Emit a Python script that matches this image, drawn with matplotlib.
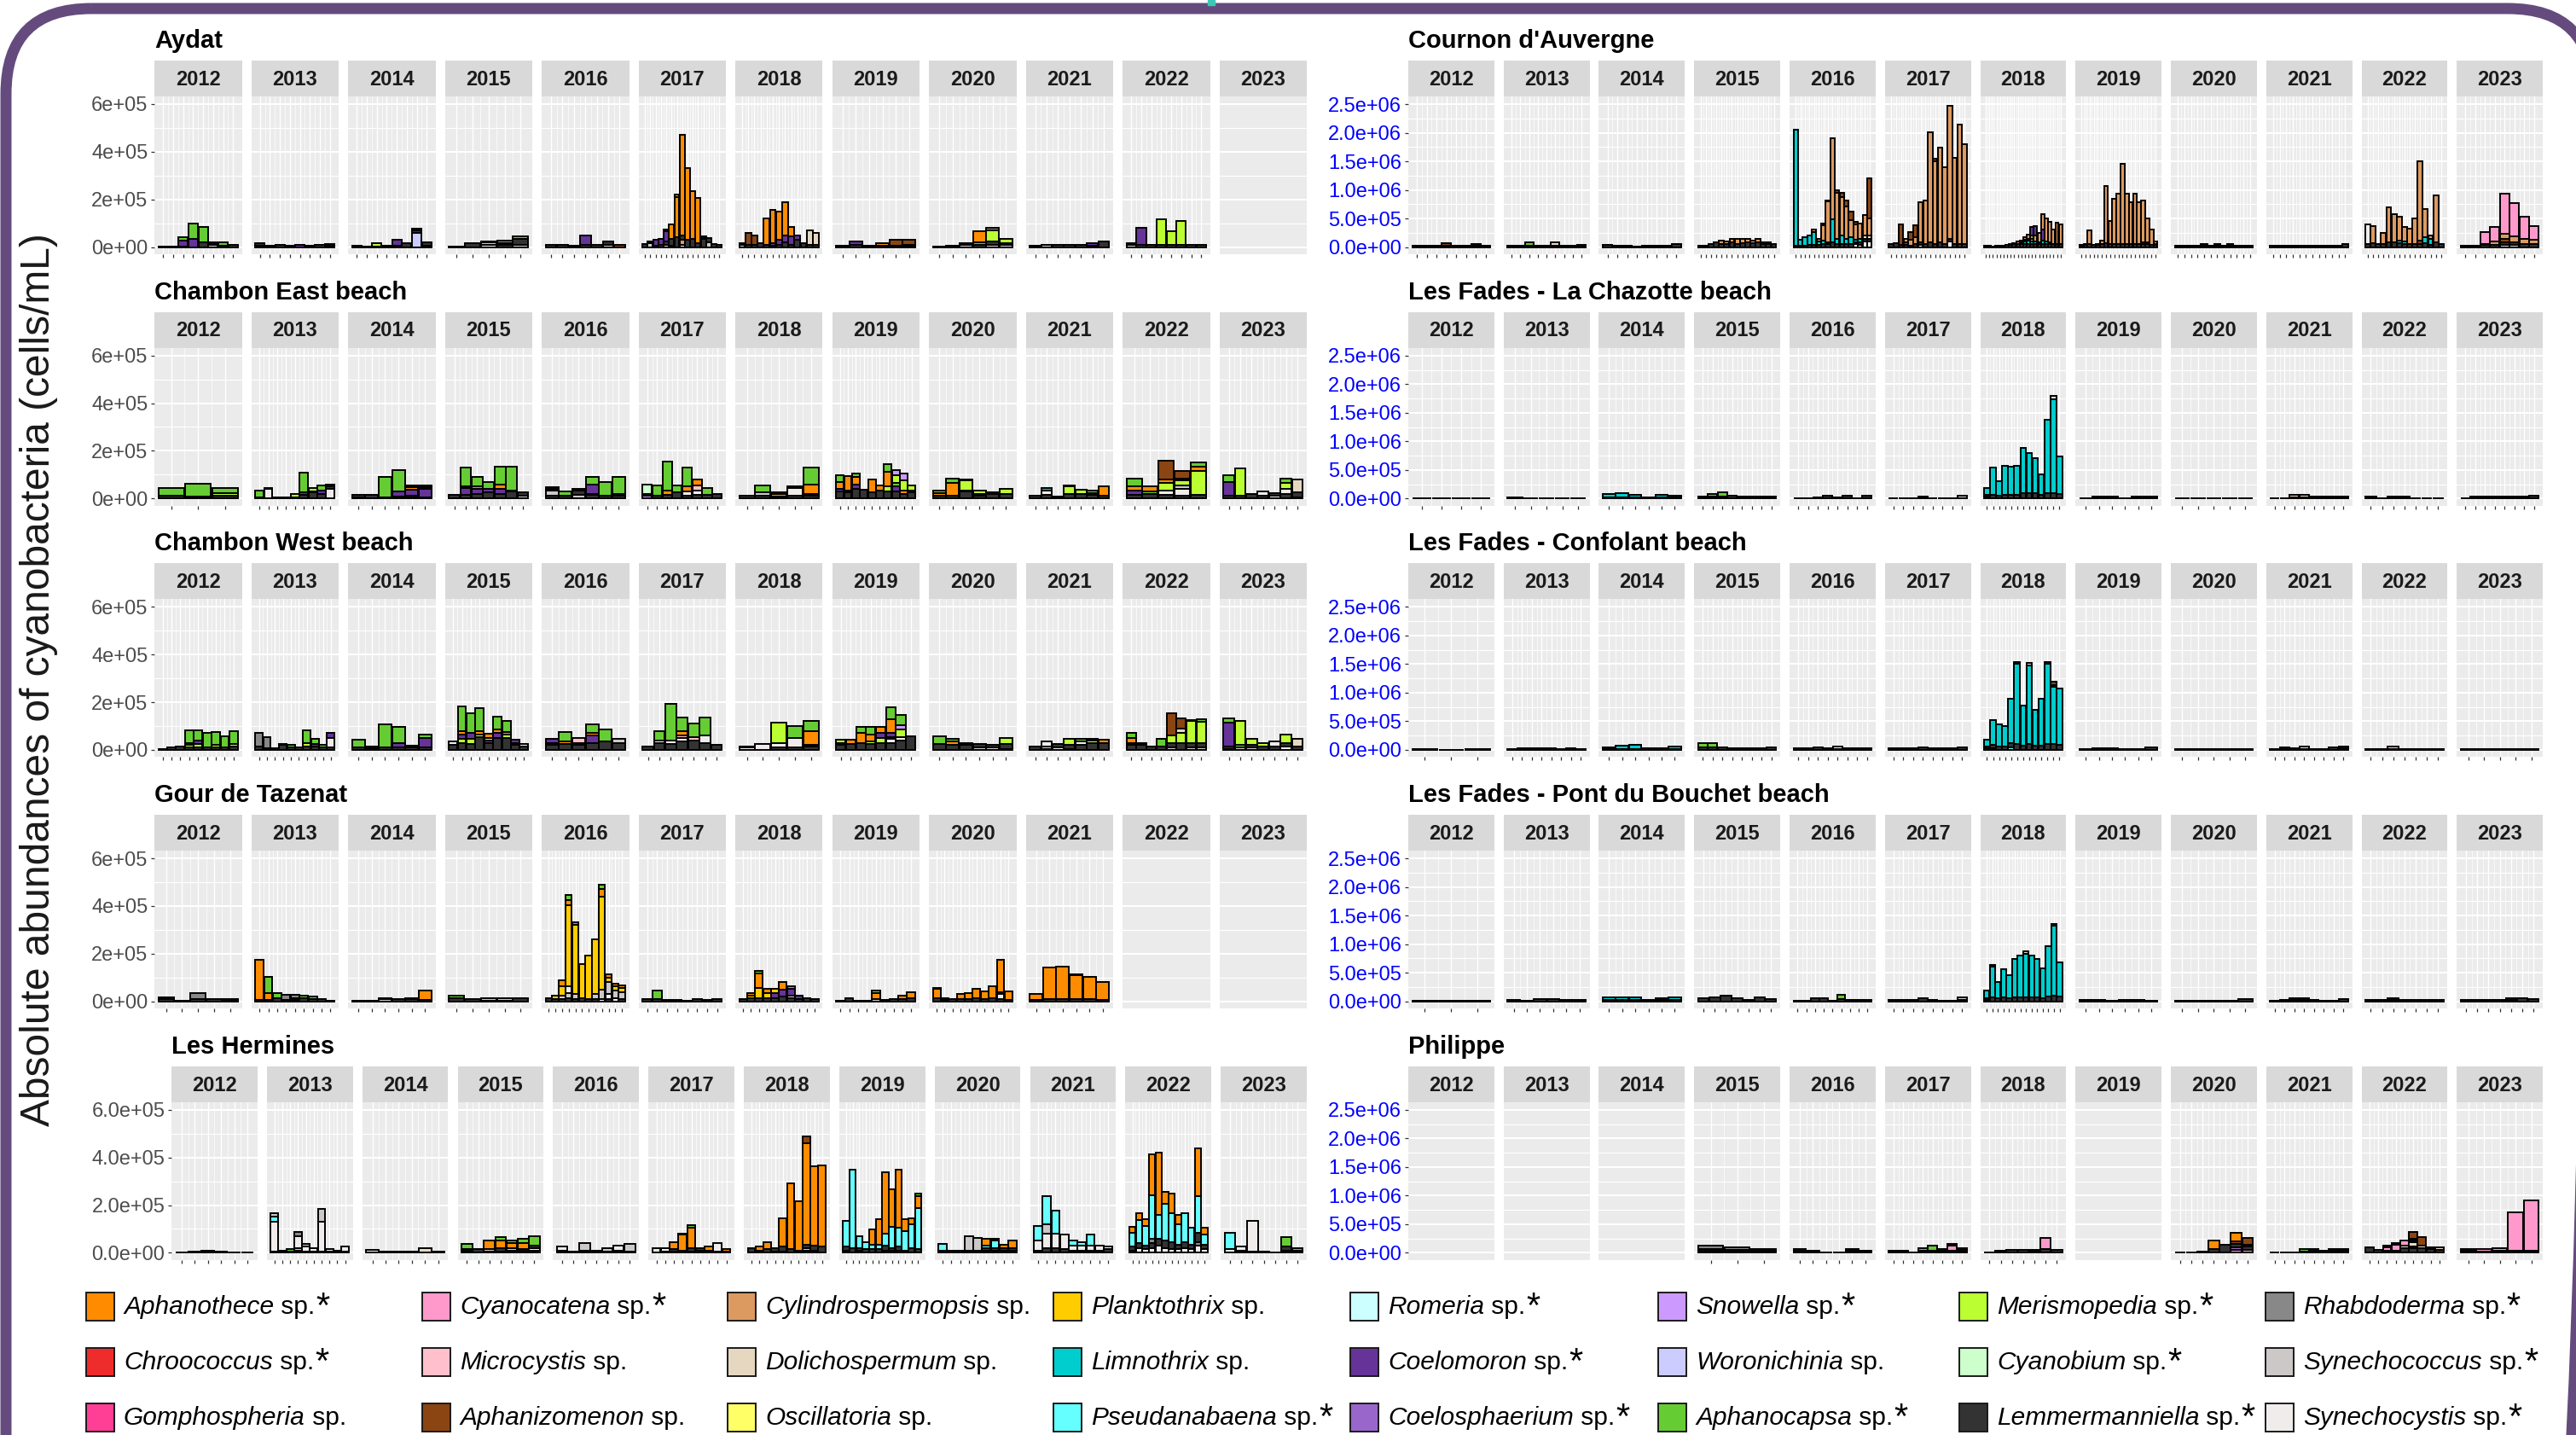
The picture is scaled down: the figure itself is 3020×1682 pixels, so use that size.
import matplotlib
matplotlib.use("Agg")
import matplotlib.pyplot as plt
from matplotlib.patches import Rectangle, FancyBboxPatch
import numpy as np

plt.rcParams['font.family'] = ['Liberation Sans', 'DejaVu Sans']

# ------------------------------------------------------------------ data
YEARS = list(range(2012, 2024))

TAXA = ["Aphanothece", "Chroococcus", "Gomphospheria", "Cyanocatena", "Microcystis",
        "Aphanizomenon", "Cylindrospermopsis", "Dolichospermum", "Oscillatoria",
        "Planktothrix", "Limnothrix", "Pseudanabaena", "Romeria", "Coelomoron",
        "Coelosphaerium", "Snowella", "Woronichinia", "Aphanocapsa", "Merismopedia",
        "Cyanobium", "Lemmermanniella", "Rhabdoderma", "Synechococcus", "Synechocystis"]
CODES = ["Ap", "Ch", "Go", "Cc", "Mi", "Az", "Cy", "Do", "Os", "Pl", "Li", "Ps", "Ro",
         "Cm", "Cs", "Sn", "Wo", "Ac", "Me", "Cb", "Le", "Rh", "Sc", "Sy"]
STARRED = [1, 1, 0, 1, 0, 0, 0, 0, 0, 0, 0, 1, 1, 1, 1, 1, 0, 1, 1, 1, 1, 1, 1, 1]
COLORS = ["#FF8C00", "#EE2C2C", "#FF3E96", "#FF99CC", "#FFC0CB", "#8B4513", "#DD9A60",
          "#E6D8C0", "#FFFF66", "#FFCC00", "#00CDCD", "#66FFFF", "#CCFFFF", "#663399",
          "#9966CC", "#CC99FF", "#CCCCFF", "#66CC33", "#BBFF33", "#CCFFCC", "#333333",
          "#888888", "#CCC8C8", "#F0ECEC"]

# bars per year: "|" separates sampling dates; stack listed bottom -> top; values in 1000 cells/mL
AYDAT = {
    2012: "Le:2 | Le:2 | Le:3 Cm:25 Ac:15 | Cm:35 Ac:65 | Le:20 Ac:65 | Sc:8 Le:4 Ac:8 | Le:5 Ac:15 | Le:10",
    2013: "Sc:5 Le:10 | Le:5 | Le:8 | Le:5 | Cm:8 | Le:5 | Le:8 | Le:5 Ac:8",
    2014: "Le:5 | Le:2 | Le:3 Me:12 | Le:5 | Le:5 Cm:25 | Le:15 | Wo:60 Le:10 Do:8 | Wo:5 Le:15",
    2015: "Le:2 | Le:15 | Sy:10 Sc:10 Le:5 | Le:10 Cm:8 Rh:9 | Sc:8 Le:27 Ac:10",
    2016: "Le:8 | Le:8 | Le:5 | Le:8 Cm:40 | Le:8 | Sc:8 Le:15 | Az:8",
    2017: "Le:12 | Sc:15 Le:10 | Le:5 Cm:25 | Le:8 Cm:25 | Sc:10 Le:15 Cm:40 Ac:10 | Sy:5 Le:30 Ap:60 | "
          "Le:40 Ap:170 Ac:10 | Sy:10 Cy:20 Le:20 Ap:420 | Le:30 Ap:300 | Le:35 Ap:200 | Le:15 Ap:190 | "
          "Le:35 Mi:5 Ap:5 | Sc:20 Le:18 | Le:12 | Le:10",
    2018: "Sc:10 Le:8 | Le:10 Az:50 | Le:10 Az:40 | Le:18 | Le:10 Ap:110 | Le:7 Cm:10 Ap:140 | "
          "Le:10 Cm:20 Ap:120 | Le:20 Cm:30 Ap:140 | Le:10 Cm:35 Ap:40 | Le:30 Cm:20 | Le:18 | Le:10 Do:60 | Le:10 Do:50",
    2019: "Le:5 | Le:8 Cm:15 | Le:5 | Le:5 Ap:10 | Le:5 Az:25 | Le:5 Ap:5 Az:20",
    2020: "Le:3 | Le:5 | Sc:10 Le:5 | Le:10 Ac:10 Ap:45 | Sc:10 Le:15 Me:45 Rh:10 | Sc:8 Le:10 Me:15",
    2021: "Le:5 | Sc:8 | Le:8 | Le:8 | Le:8 | Le:5 Cm:12 | Le:25",
    2022: "Sc:10 Le:8 | Le:10 Cm:70 | Le:10 | Le:8 Me:110 | Le:8 Me:60 | Le:8 Me:100 | Le:10 | Le:10",
    2023: "",
}
CHAMBON_EAST = {
    2012: "Le:12 Ac:32 | Le:7 Ac:55 | Le:10 Me:12 Ac:22",
    2013: "Le:5 Ac:30 | Sy:40 Le:3 | Le:5 | Le:3 | Le:5 Me:15 | Le:15 Cm:10 Ac:85 | Le:25 Cm:5 Me:15 | "
          "Le:20 Cm:15 Ac:20 | Sy:40 Le:10 Ac:10",
    2014: "Cm:5 Le:10 | Le:15 | Le:5 Ac:85 | Le:8 Cm:20 Ac:90 | Le:5 Mi:8 Cm:25 Ap:10 Ac:5 | Le:5 Cm:35 Ap:8 Ac:8",
    2015: "Le:15 | Le:15 Cm:30 Ap:5 Ac:80 | Le:20 Cm:20 Ap:10 Ac:40 | Le:25 Cm:15 Ac:30 | Le:20 Cm:20 Ap:20 Ac:75 | "
          "Le:30 Ap:5 Ac:100 | Sc:10 Le:15",
    2016: "Le:12 Sc:20 Mi:10 Ap:5 | Le:10 Ac:20 | Sc:15 Le:18 Ap:8 | Le:15 Mi:5 Cm:40 Ac:30 | Le:10 Ac:60 | Le:10 Cm:10 Ac:70",
    2017: "Sn:10 Le:10 Cb:40 | Le:10 Ac:45 | Le:15 Ap:20 Ac:120 | Le:25 Ac:30 | Le:10 Sy:20 Ap:20 Ac:80 | "
          "Le:15 Sy:20 Mi:20 Ap:25 | Le:15 Ac:30 | Le:20",
    2018: "Le:12 | Le:10 Sc:15 Ac:30 | Le:8 Ap:10 Ac:8 | Le:10 Sy:35 Rh:5 | Le:10 Sy:10 Ap:40 Ac:70",
    2019: "Le:30 Cm:10 Ap:30 Ac:28 | Le:25 Ac:10 Ap:58 | Le:40 Cm:20 Ap:30 Ac:15 | Le:36 | Le:25 Ap:53 | Le:34 Ap:20 | "
          "Le:30 Me:20 Ap:63 Ac:30 | Le:30 Cm:20 Ac:15 Me:34 Sn:20 | Le:20 Ap:15 Me:40 Sn:30 | Le:25 Mi:10 Me:21",
    2020: "Le:10 Ap:12 Ac:10 | Le:10 Ap:55 Ac:19 | Le:30 Mi:5 Me:40 Ac:5 | Le:10 Cm:10 Me:12 | Le:20 Ac:6 | Le:20 Me:20",
    2021: "Le:12 | Le:15 Sy:20 Li:10 | Le:8 | Le:20 Me:30 Ac:6 | Le:20 Me:16 | Le:15 Cm:8 Ac:9 | Le:10 Ap:40",
    2022: "Le:15 Cm:20 Ap:15 Ac:34 | Le:20 Ac:10 Ap:20 | Le:15 Sy:20 Me:30 Ap:15 Az:80 | "
          "Le:10 Sy:30 Sc:15 Me:20 Ap:10 Az:32 | Le:15 Me:100 Ap:20 Ac:17",
    2023: "Le:10 Cm:60 Ac:28 | Le:10 Me:115 | Le:20 | Le:10 Sy:20 | Sy:10 Le:12 | Le:20 Sy:20 Me:25 Ac:19 | Sc:5 Le:20 Do:53",
}
CHAMBON_WEST = {
    2012: "Le:5 | Le:10 | Le:15 | Le:10 Me:10 Cm:10 Ac:53 | Le:10 Me:15 Cm:15 Ac:43 | Le:10 Ac:61 | "
          "Le:10 Me:10 Ac:55 | Le:10 Ac:49 | Le:15 Me:10 Ac:55",
    2013: "Le:15 Rh:56 | Le:8 Rh:45 | Le:8 | Le:20 Ac:6 | Le:10 Ac:10 | Le:10 | Le:15 Me:15 Ac:53 | "
          "Le:15 Cm:10 Ac:23 | Le:10 Ac:10 | Le:10 Sy:40 Cm:21",
    2014: "Le:12 Ac:30 | Le:8 Ap:5 | Le:10 Ac:97 | Le:10 Cm:20 Ac:65 | Le:10 Mi:8 | Le:10 Cm:40 Ac:13",
    2015: "Le:20 Sy:16 | Le:30 Me:15 Cm:20 Ap:15 Ac:104 | Le:25 Me:20 Cm:25 Ac:84 | Le:55 Me:10 Ap:15 Ac:96 | "
          "Le:30 Cm:10 Me:10 Ap:18 | Le:50 Cm:20 Ap:15 Ac:54 | Le:50 Me:15 Ap:10 Ac:47 | Le:20 Sc:10 Cm:12 | Le:15 Sy:10",
    2016: "Le:20 Sc:10 Cm:15 | Le:25 Ap:10 Ac:40 | Le:20 Sy:10 Mi:20 | Le:30 Cm:30 Ap:10 Ac:37 | Le:35 Ac:51 | Le:30 Sc:15",
    2017: "Le:15 | Le:30 Sy:10 Ac:40 | Le:25 Sy:15 Ac:152 | Le:35 Sy:15 Mi:10 Ap:20 Ac:57 | Le:40 Mi:15 Ac:55 | "
          "Le:30 Sy:30 Ac:77 | Le:20",
    2018: "Sy:10 Le:5 | Sy:25 | Le:10 Sy:20 Me:85 | Le:10 Sy:40 Ac:51 | Le:15 Sy:5 Ap:60 Ac:42",
    2019: "Le:20 Sc:10 Me:14 | Le:25 Ap:17 | Le:30 Ap:40 Ac:25 | Le:25 Me:10 Ap:30 Ac:30 | Le:30 Me:20 Cm:20 Ap:25 | "
          "Le:30 Sy:15 Me:10 Cm:15 Ap:60 Ac:50 | Le:40 Sy:15 Me:30 Sn:20 Ac:43 | Le:57",
    2020: "Le:25 Ac:34 | Le:20 Ap:15 Ac:10 | Le:20 Ap:10 | Sc:10 Le:15 | Sc:10 Le:10 | Sc:5 Le:20 Me:26",
    2021: "Le:15 | Le:5 Sc:10 Sy:21 | Sy:10 Le:15 | Sy:5 Le:15 Me:25 | Le:20 Sy:15 Ac:10 | Le:30 Me:10 Ac:5 | Le:30 Ap:12",
    2022: "Le:20 Me:10 Ap:20 Ac:21 | Le:20 Me:10 | Le:15 | Le:15 Ac:30 | Sc:10 Le:20 Me:30 Az:94 | "
          "Le:30 Me:40 Do:20 Az:43 | Sc:10 Le:20 Me:90 Ac:7 | Sc:10 Le:20 Me:88 Ac:10",
    2023: "Sc:5 Le:10 Cm:100 Ac:18 | Sc:10 Ac:10 Me:102 | Sc:10 Le:10 Me:28 | Le:15 Me:15 | Le:15 Sy:20 | "
          "Sy:15 Le:15 Me:33 | Le:15 Do:33",
}
GOUR_DE_TAZENAT = {
    2012: "Le:8 Ac:8 | Le:2 | Le:8 Rh:27 | Le:10 | Le:3 Ap:8",
    2013: "Le:5 Ap:169 | Le:5 Ap:30 Ac:68 | Le:15 Ac:18 | Le:5 Rh:22 | Le:5 Sc:10 Rh:12 | Le:15 Ac:10 | "
          "Le:10 Ac:10 | Le:10 | Le:3",
    2014: "Le:3 | Le:1 | Sc:10 Le:5 | Le:10 | Le:8 Ac:5 | Le:5 Ap:42",
    2015: "Le:12 Ac:12 | Le:8 | Le:4 Sc:10 | Le:4 Sc:10 | Le:15",
    2016: "Le:15 | Le:8 Pl:15 | Le:10 Sc:15 Pl:40 Ap:23 | Le:15 Sc:20 Sy:30 Pl:340 Ap:20 Ac:20 | "
          "Le:10 Sc:20 Pl:290 Ap:13 | Le:15 Pl:141 | Le:10 Pl:182 | Le:10 Sc:20 Pl:229 | "
          "Sy:10 Sc:40 Pl:390 Ap:30 Ac:18 | Le:10 Sy:20 Sc:50 Pl:20 Ap:15 | Sy:14 Sc:30 Pl:20 Ap:10 | Le:10 Sc:30 Pl:15 Ap:13",
    2017: "Le:8 | Le:8 Ac:37 | Le:5 | Le:5 | Le:3 | Le:10 | Le:5 | Le:10",
    2018: "Le:10 | Le:15 Pl:10 Ap:10 | Le:15 Pl:40 Ap:62 Ac:10 | Le:15 Pl:20 Ap:16 | Le:15 Cm:20 Pl:16 | "
          "Le:20 Cm:30 Ap:32 | Le:15 Sc:10 Cm:27 Ap:10 | Le:10 Cm:15 | Le:15 | Le:10",
    2019: "Le:3 | Le:15 | Le:3 | Le:3 | Sc:10 Ap:25 Ac:10 | Le:5 | Le:10 | Le:10 Ap:15 | Le:15 Ap:25",
    2020: "Le:15 Ap:36 Ac:5 | Le:5 Ap:10 | Le:8 | Le:8 Ap:22 | Le:8 Ap:25 | Le:15 Ap:38 | Le:10 Ap:32 | "
          "Le:15 Ap:47 | Le:10 Sy:20 Sc:10 Ap:134 | Le:5 Ap:37",
    2021: "Le:5 Ap:25 | Le:10 Ap:131 | Le:10 Ap:137 | Le:10 Ap:100 Ac:5 | Le:10 Ap:94 | Sc:5 Ap:77",
    2022: "",
    2023: "",
}
LES_HERMINES = {
    2012: "Le:3 | Le:5 | Le:3 Ac:5 | Le:5 | Le:3 | Le:3",
    2013: "Le:5 Sy:125 Ps:20 Sc:16 | Le:8 | Le:5 Ac:12 | Le:8 Sc:10 Sy:50 Rh:19 | Le:5 Sy:20 Sc:11 | Le:5 Sy:15 | "
          "Le:5 Sy:125 Sc:54 | Le:5 Sy:10 | Le:5 Ac:5 | Le:5 Sy:23",
    2014: "Le:3 Sy:10 | Le:5 | Le:5 | Le:5 | Le:3 Do:15 | Le:5",
    2015: "Le:10 Sy:5 Ac:22 | Le:15 | Le:5 Sc:10 Ap:36 | Sy:5 Le:15 Ap:30 Ac:15 | Le:10 Sc:10 Ap:20 Ac:13 | "
          "Le:10 Sy:5 Ap:25 Ac:20 | Sc:10 Sy:10 Le:10 Ac:41",
    2016: "Le:10 Sy:17 | Le:5 | Le:8 Sc:31 | Le:10 | Le:5 Sc:15 | Le:8 Sy:23 | Le:5 Sc:32",
    2017: "Cb:19 | Le:5 Sy:15 | Sy:5 Le:10 Ap:28 | Le:10 Ap:66 Ac:5 | Sy:5 Le:15 Ap:86 Ac:10 | Go:3 Sy:5 Le:10 | "
          "Le:10 Ap:15 | Le:5 Sy:34 | Le:5 Ap:12",
    2018: "Le:20 | Le:10 Ap:15 | Le:15 Ap:30 | Sy:5 Le:15 | Sy:5 Le:20 Ap:121 | Le:15 Ap:275 | Le:10 Ap:207 | "
          "Li:10 Sc:10 Le:15 Ap:423 Az:30 | Sy:10 Le:20 Ap:333 | Le:25 Ap:340",
    2019: "Sy:10 Le:15 Ps:109 | Le:20 Ps:330 | Sy:10 Le:10 Ps:49 | Le:15 Ps:30 | Le:15 Ps:20 Ap:63 | "
          "Le:15 Ps:20 Ap:105 | Sy:10 Le:20 Ps:50 Ap:258 | Sy:10 Le:10 Ps:90 Ap:155 | Sy:10 Le:15 Ps:80 Ap:245 | "
          "Le:10 Ps:80 Ap:50 | Le:20 Ps:100 Ap:26 | Le:15 Ps:172 Ap:50 Ac:10",
    2020: "Le:10 Ps:27 | Le:8 | Le:10 | Le:10 Sc:61 | Le:10 Sc:53 | Sc:10 Le:10 Ps:10 Ap:30 | "
          "Sc:10 Le:10 Ps:30 Ap:10 | Sc:10 Le:10 Ap:12 | Sc:10 Le:10 Ap:30",
    2021: "Le:10 Sy:40 Ps:63 | Le:20 Sy:60 Sc:40 Ps:117 | Le:20 Sy:60 Ps:98 | Le:15 Sy:62 | Le:10 Sy:20 Ps:21 | "
          "Le:10 Sy:20 Ps:15 | Le:10 Sy:20 Ps:45 | Le:10 Sy:20 | Le:15 Sy:10",
    2022: "Sy:10 Le:15 Ps:60 Ap:22 | Sy:20 Le:20 Ps:96 Ap:30 | Sy:15 Le:15 Ps:82 Ap:30 | "
          "Sy:20 Le:20 Rh:20 Ps:180 Ap:173 | Sy:30 Le:30 Ps:100 Ap:261 | Sy:20 Le:30 Ps:155 Ap:50 | "
          "Sy:15 Le:30 Ps:122 Ap:80 | Sy:15 Le:20 Ps:83 Ap:40 | Sy:20 Le:25 Ps:121 | Sy:15 Le:20 Ps:69 | "
          "Sy:30 Rh:15 Le:40 Ps:152 Ap:200 | Sy:15 Le:20 Ps:40 Ap:29",
    2023: "Sy:15 Ps:68 | Le:10 Sy:17 | Le:5 Sy:129 | Le:5 | Le:3 | Sy:10 Le:15 Ac:40 | Le:10 Ap:10",
}
COURNON = {
    2012: "Le:30 | Le:30 | Le:30 | Le:30 Az:44 | Le:30 | Le:30 | Le:20 Do:29 | Le:30",
    2013: "Le:30 | Le:30 | Le:20 Ac:69 | Le:30 | Le:30 | Le:20 Do:69 | Le:30 | Le:30 | Le:20 Do:20",
    2014: "Le:40 | Le:30 | Le:20 | Le:5 | Le:30 | Le:30 | Le:30 | Le:50",
    2015: "Le:20 | Le:25 | Le:60 | Le:90 | Le:60 Cy:50 | Le:50 Cy:45 | Le:80 Cy:70 | Le:60 Cy:80 | Le:70 Cy:80 | "
          "Le:80 Cy:60 | Le:70 Cy:50 | Le:90 Cy:60 | Le:60 Li:30 | Le:50 Li:30 | Le:60",
    2016: "Le:20 Li:2030 | Le:20 Li:113 | Le:30 Li:147 | Le:40 Li:167 | Le:40 Li:220 Cy:50 | Le:40 Li:60 Cy:48 | "
          "Le:50 Li:60 Cy:278 Az:30 | Le:50 Li:30 Cy:722 Az:20 | Le:80 Li:400 Cy:1420 | Le:60 Li:80 Cy:815 Az:40 | "
          "Le:60 Li:150 Cy:665 Az:80 | Le:50 Li:100 Cy:562 Az:110 | Le:50 Li:120 Cy:305 Az:150 | "
          "Sy:50 Le:40 Li:40 Cy:263 Az:50 | Sy:40 Le:50 Li:50 Cy:278 | Sy:100 Le:40 Do:60 Cy:356 | "
          "Sy:100 Le:40 Do:60 Cy:300 Az:710",
    2017: "Le:50 | Le:69 | Le:40 Az:364 | Le:40 Az:40 Cy:68 | Le:30 Cy:100 Az:126 | Le:50 Cy:129 Az:200 | "
          "Sy:40 Le:50 Cy:698 | Le:60 Cy:753 | Le:80 Cy:1930 | Le:60 Cy:1440 Az:50 | Le:80 Cy:1660 | "
          "Le:60 Cy:1340 | Sy:100 Le:40 Cy:2330 | Le:60 Cy:1500 | Le:60 Cy:2080 | Le:60 Cy:1740",
    2018: "Le:20 | Le:20 | Sy:5 | Le:30 | Le:20 | Le:30 | Le:40 | Le:40 Li:20 | Le:50 Li:25 | Le:60 Cy:40 | "
          "Le:60 Li:20 Cy:40 | Le:60 Li:40 Ac:30 Cy:50 | Le:60 Li:50 Ac:40 Cy:70 | Le:50 Li:50 Cy:50 Ac:50 Cm:150 | "
          "Le:60 Li:40 Cy:100 Cm:170 | Le:50 Li:30 Cy:170 | Le:60 Li:50 Cm:200 Cy:260 | Le:60 Li:40 Cy:400 | "
          "Le:50 Li:30 Cy:360 | Le:50 Cy:250 | Le:60 Cy:360 | Le:50 Cy:350",
    2019: "Le:30 Li:10 | Le:40 Ps:20 | Le:50 Cy:240 | Le:40 | Le:40 Li:20 | Le:60 Cy:50 | Le:70 Cy:1000 | "
          "Le:50 Cy:400 | Le:60 Cy:780 | Le:60 Cy:870 | Le:60 Cy:1400 | Le:60 Cy:870 | Le:60 Cy:720 | Le:60 Cy:870 | "
          "Le:60 Cy:720 | Le:50 Li:30 Cy:740 | Le:50 Li:30 Cy:420 | Le:40 Cy:260 | Le:40 Li:20 Cy:40",
    2020: "Le:30 | Le:30 | Le:30 | Le:30 | Le:20 Do:30 | Le:30 | Le:30 Do:20 | Le:30 | Le:30 Do:20 | Le:30 | Le:30 | Le:30",
    2021: "Le:30 | Le:30 | Le:30 | Le:30 | Le:30 | Le:30 | Le:30 | Le:30 | Le:30 | Le:30 | Le:30 | Le:60",
    2022: "Le:50 Sy:350 | Le:70 Cy:300 | Le:50 | Le:50 Cy:200 | Le:90 Cy:600 | Le:80 Cy:500 | Le:70 Li:40 Cy:420 | "
          "Le:60 Li:40 Cy:250 | Le:60 Cy:260 | Le:60 Cy:435 | Le:60 Az:60 Cy:1380 | Le:70 Li:100 Cy:500 | "
          "Le:40 Li:100 Cy:60 | Le:80 Cy:820 | Le:50",
    2023: "Le:30 | Le:30 | Le:40 Az:20 Cc:197 | Le:40 Cy:60 Cc:247 | Sc:40 Le:50 Az:50 Cy:100 Cc:700 | "
          "Sc:40 Le:50 Cy:100 Cc:577 | Le:50 Cy:100 Cc:385 | Le:50 Cy:80 Cc:231",
}
LA_CHAZOTTE = {
    2012: "Le:10 | Le:10 | Le:10 | Le:10",
    2013: "Le:20 | Le:10 | Le:10 | Le:10 | Le:10",
    2014: "Le:20 Li:55 | Le:20 Li:70 | Le:20 Li:50 | Le:20 | Le:20 Li:50 | Le:15 Li:40",
    2015: "Le:30 | Le:30 Ac:50 | Le:40 Ac:70 | Le:50 | Le:30 | Le:30 | Le:30 | Le:30",
    2016: "Le:5 | Le:5 | Le:20 | Le:50 | Le:20 | Le:50 | Le:5 | Le:50",
    2017: "Le:5 | Le:5 | Le:5 | Le:30 | Le:10 | Le:10 | Le:10 | Le:10 Sc:40",
    2018: "Le:30 Ps:30 Li:124 | Le:60 Li:487 | Le:50 Li:258 | Le:70 Li:502 | Le:70 Li:487 | Le:70 Li:502 | "
          "Le:100 Li:785 | Le:90 Li:706 | Le:90 Li:616 | Le:60 Li:363 | Le:100 Li:1280 | Le:90 Li:1650 Do:50 | Le:80 Li:651",
    2019: "Le:10 | Le:30 | Le:30 | Le:10 | Le:30 | Le:30",
    2020: "Le:10 | Le:10 | Le:10 | Le:10 | Le:10",
    2021: "Le:5 | Le:5 | Le:20 Do:40 | Le:20 Do:40 | Le:30 | Le:30 | Le:30 | Le:30",
    2022: "Le:30 | Le:10 | Le:30 | Le:30 | Le:10 | Le:10 | Le:10",
    2023: "Le:5 | Le:30 | Le:30 | Le:30 | Le:30 | Le:30 | Le:30 | Le:50",
}
CONFOLANT = {
    2012: "Le:20 | Le:5 | Le:20",
    2013: "Le:20 | Le:30 | Le:30 | Le:30 | Le:30 | Le:20 | Le:30 | Le:20",
    2014: "Le:20 Li:30 | Le:20 Li:50 | Le:20 Li:70 | Le:30 | Le:30 | Le:20 Li:40",
    2015: "Le:40 Ac:80 | Le:40 Ac:80 | Le:50 | Le:30 | Le:30 | Le:30 | Le:30 | Le:50",
    2016: "Le:30 | Le:30 | Le:40 | Le:30 | Le:20 Sy:40 | Le:30 | Le:30 | Le:30",
    2017: "Le:30 | Le:30 | Le:30 | Le:40 | Le:30 | Le:30 | Le:30 | Le:40",
    2018: "Le:30 Ps:30 Li:123 | Ps:30 Le:60 Li:430 | Le:60 Li:386 | Le:60 Li:361 | Ps:40 Le:80 Li:780 | "
          "Le:100 Li:1400 Do:40 | Le:80 Li:697 | Le:100 Li:1380 Do:40 | Le:70 Li:638 | Le:80 Li:820 | "
          "Le:100 Li:1400 Do:40 | Le:100 Li:1000 Do:40 Az:60 | Le:90 Li:980",
    2019: "Le:20 | Le:30 | Le:30 | Le:20 | Le:20 | Le:50",
    2020: "Le:20 | Le:20 | Le:20 | Le:20 | Le:20",
    2021: "Le:20 | Le:10 Do:40 | Le:30 | Le:20 Do:40 | Le:20 | Le:20 | Le:40 | Le:30 Wo:30",
    2022: "Le:20 | Le:20 | Le:20 Mi:40 | Le:20 | Le:20 | Le:20 | Le:20",
    2023: "Le:20 | Le:20 | Le:20 | Le:20 | Le:20",
}
PONT_DU_BOUCHET = {
    2012: "Le:10 | Le:10 | Le:10",
    2013: "Le:30 | Le:5 | Le:40 | Le:40 | Le:30 | Le:30",
    2014: "Le:20 Li:50 | Le:20 Li:50 | Le:20 Li:50 | Le:20 | Le:20 Li:30 | Le:20 Li:50",
    2015: "Le:50 | Le:70 | Le:100 | Le:60 | Le:30 | Le:70 | Le:40",
    2016: "Le:5 | Le:5 | Le:50 | Le:50 | Le:5 | Le:40 Ac:80 | Le:30 | Le:30 | Le:30",
    2017: "Le:30 | Le:30 | Le:30 | Le:50 | Le:30 | Le:5 | Le:5 | Le:30 Sc:40",
    2018: "Le:30 Ps:30 Li:131 | Le:70 Li:532 Do:30 | Le:50 Li:288 | Le:70 Li:494 | Le:60 Li:391 | Le:70 Li:665 | "
          "Le:70 Li:734 | Le:70 Li:767 Do:40 | Le:70 Li:734 | Le:70 Li:665 | Le:60 Li:514 | Le:90 Li:876 | "
          "Le:100 Li:1230 Sc:30 | Le:80 Li:606",
    2019: "Le:30 | Le:30 | Le:5 | Le:30 | Le:30 | Le:10",
    2020: "Le:10 | Le:10 | Le:10 | Le:10 | Le:40",
    2021: "Le:5 | Le:30 | Le:20 Do:40 | Le:20 Do:40 | Le:30 | Le:10 | Le:10 | Le:40",
    2022: "Le:30 | Le:30 | Le:20 Mi:40 | Le:30 | Le:30 | Le:30 | Le:30",
    2023: "Le:30 | Le:30 | Le:30 | Le:30 | Le:30 Wo:30 | Le:50 | Le:40",
}
PHILIPPE = {
    2012: "", 2013: "", 2014: "",
    2015: "Le:40 Cc:20 Rh:60 | Le:30 Cc:20 Rh:45 | Le:20 Cc:30 Rh:10",
    2016: "Le:30 Ac:40 | Le:30 | Le:10 | Le:10 | Le:30 Ac:40 | Le:20 Ac:20",
    2017: "Le:30 | Le:30 | Le:10 | Le:20 Cc:20 Ac:40 | Le:40 Ac:80 | Le:30 Ac:40 | Le:30 Cc:100 Az:30 | Le:30 Cc:30 Az:20",
    2018: "Le:10 | Le:30 | Le:50 | Le:50 | Le:30 Cc:20 | Le:60 Cc:200 | Le:50",
    2019: "",
    2020: "Le:10 | Le:10 | Le:20 | Le:60 Ap:162 | Le:138 | Cc:50 Cs:50 Le:60 Az:40 Ap:145 | Cc:50 Le:60 Ap:30 Az:121",
    2021: "Le:5 | Le:10 | Le:10 | Le:20 Ac:44 | Le:30 Ac:40 | Le:40 | Le:30 Ac:30 | Le:30 Ap:40",
    2022: "Le:98 | Le:50 | Le:30 Cc:60 Ap:40 | Le:40 Cc:100 Ac:30 | Le:80 Do:50 Cc:80 | "
          "Le:80 Cc:30 Do:80 Ac:20 Ap:30 Az:130 | Le:80 Do:40 Az:150 | Le:60 Do:40 | Le:50 Do:40",
    2023: "Le:30 Cc:34 | Le:20 Cc:40 | Le:40 Cc:44 | Le:30 Cc:670 | Le:30 Cc:881",
}

LEFT_SITES = [("Aydat", AYDAT), ("Chambon East beach", CHAMBON_EAST), ("Chambon West beach", CHAMBON_WEST),
              ("Gour de Tazenat", GOUR_DE_TAZENAT), ("Les Hermines", LES_HERMINES)]
RIGHT_SITES = [("Cournon d'Auvergne", COURNON), ("Les Fades - La Chazotte beach", LA_CHAZOTTE),
               ("Les Fades - Confolant beach", CONFOLANT), ("Les Fades - Pont du Bouchet beach", PONT_DU_BOUCHET),
               ("Philippe", PHILIPPE)]

LEFT_TICKS = [0, 2e5, 4e5, 6e5]
LEFT_LABELS = ["0e+00", "2e+05", "4e+05", "6e+05"]
HERMINES_LABELS = ["0.0e+00", "2.0e+05", "4.0e+05", "6.0e+05"]
RIGHT_TICKS = [0, 5e5, 1e6, 1.5e6, 2e6, 2.5e6]
RIGHT_LABELS = ["0.0e+00", "5.0e+05", "1.0e+06", "1.5e+06", "2.0e+06", "2.5e+06"]
Y_TITLE = "Absolute abundances of cyanobacteria (cells/mL)"

# ------------------------------------------------------------------ helpers
COLOR = dict(zip(CODES, COLORS))


def parse(s):
    bars = []
    for part in s.split("|"):
        part = part.strip()
        if not part:
            continue
        segs = []
        for tok in part.split():
            c, v = tok.split(":")
            segs.append((c, float(v) * 1000.0))
        bars.append(segs)
    return bars


W, H, DPI = 3020, 1682, 100
fig = plt.figure(figsize=(W / DPI, H / DPI), dpi=DPI)
fig.patch.set_facecolor("white")


def px_axes(x0, top, w, h):
    return fig.add_axes([x0 / W, 1 - (top + h) / H, w / W, h / H])


ROW = 294.7
GAP = 11


def draw_site(name, data, row, left, right, ymax, yticks, ylabels, labcolor):
    base = row * ROW
    fig.text(left / W, 1 - (56 + base) / H, name, fontsize=21, fontweight="bold",
             ha="left", va="baseline", color="black")
    w = (right - left - 11 * GAP) / 12
    minor_y = [(a + b) / 2 for a, b in zip(yticks[:-1], yticks[1:])]
    for j, yr in enumerate(YEARS):
        x0 = left + j * (w + GAP)
        sax = px_axes(x0, 71 + base, w, 42)
        sax.set_facecolor("#D9D9D9")
        sax.set_xticks([])
        sax.set_yticks([])
        for s in sax.spines.values():
            s.set_visible(False)
        sax.text(0.5, 0.47, str(yr), ha="center", va="center", fontsize=17,
                 fontweight="bold", color="#1A1A1A", transform=sax.transAxes)

        ax = px_axes(x0, 113 + base, w, 185)
        ax.set_facecolor("#EBEBEB")
        for s in ax.spines.values():
            s.set_visible(False)
        ax.set_axisbelow(True)
        ax.set_ylim(-0.05 * ymax, 1.05 * ymax)
        ax.set_yticks(yticks)
        ax.set_yticks(minor_y, minor=True)
        ax.grid(which="major", axis="y", color="white", lw=1.5)
        ax.grid(which="minor", axis="y", color="white", lw=0.8)
        bars = parse(data.get(yr, ""))
        n = len(bars)
        if n:
            xs, hs, bs, cs = [], [], [], []
            for i, segs in enumerate(bars):
                bottom = 0.0
                for c, v in segs:
                    xs.append(i)
                    hs.append(v)
                    bs.append(bottom)
                    cs.append(COLOR[c])
                    bottom += v
            ax.bar(xs, hs, bottom=bs, width=0.95, color=cs, edgecolor="black", linewidth=1.4, zorder=3)
            span = n - 0.05
            ax.set_xlim(-0.475 - 0.05 * span, n - 0.525 + 0.05 * span)
            ax.set_xticks(np.arange(n))
            ax.set_xticks(np.arange(n - 1) + 0.5, minor=True)
            ax.grid(which="major", axis="x", color="white", lw=1.0)
            ax.grid(which="minor", axis="x", color="white", lw=0.5)
            ax.tick_params(axis="x", which="major", length=3.0, width=0.9, color="#333333",
                           labelbottom=False)
        else:
            ax.set_xlim(0, 1)
            ax.set_xticks([])
        ax.tick_params(axis="x", which="minor", length=0, labelbottom=False)
        ax.tick_params(axis="y", which="minor", length=0)
        if j == 0:
            ax.set_yticklabels(ylabels)
            ax.tick_params(axis="y", which="major", length=3.0, width=0.9, color="#333333",
                           labelsize=17, labelcolor=labcolor, pad=2.5)
        else:
            ax.tick_params(axis="y", which="major", length=0, labelleft=False)


for r, (nm, d) in enumerate(LEFT_SITES):
    lft = 201 if nm == "Les Hermines" else 181
    labs = HERMINES_LABELS if nm == "Les Hermines" else LEFT_LABELS
    draw_site(nm, d, r, lft, 1532, 6.02e5, LEFT_TICKS, labs, "#4D4D4D")
for r, (nm, d) in enumerate(RIGHT_SITES):
    draw_site(nm, d, r, 1651, 2981, 2.51e6, RIGHT_TICKS, RIGHT_LABELS, "#0000FF")

fig.text(46 / W, 1 - 797 / H, Y_TITLE, rotation=90, fontsize=34.5, ha="center", va="center", color="#1A1A1A")

# ------------------------------------------------------------------ overlay: frame + legend
ov = fig.add_axes([0, 0, 1, 1])
ov.set_xlim(0, W)
ov.set_ylim(H, 0)
ov.axis("off")
ov.add_patch(FancyBboxPatch((7, 10), 3040 - 7, 2200, boxstyle="round,pad=0,rounding_size=100",
                            fill=False, ec="#654B7D", lw=13 * 0.72, clip_on=True))
ov.add_patch(Rectangle((1416, 0), 8, 6, color="#3CC8B4"))

KEY_X = [101, 495, 853, 1235, 1583, 1944, 2297, 2656]
KEY_Y = [1515, 1580, 1645]
renderer = fig.canvas.get_renderer()
for i, (tx, col, star) in enumerate(zip(TAXA, COLORS, STARRED)):
    cx, cy = KEY_X[i // 3], KEY_Y[i % 3]
    ov.add_patch(Rectangle((cx, cy), 33, 33, facecolor=col, edgecolor="#1A1A1A", lw=1.4))
    yc = cy + 17
    t1 = ov.text(cx + 44, yc, tx, fontsize=21.5, fontstyle="italic", ha="left", va="center", color="black")
    x1 = t1.get_window_extent(renderer).x1
    t2 = ov.text(x1, yc, " sp.", fontsize=21.5, ha="left", va="center", color="black")
    x2 = t2.get_window_extent(renderer).x1
    if star:
        ov.text(x2 + 1, cy + 29, "*", fontsize=30, ha="left", va="baseline", color="black")

fig.savefig("out.png", dpi=DPI, facecolor="white")
